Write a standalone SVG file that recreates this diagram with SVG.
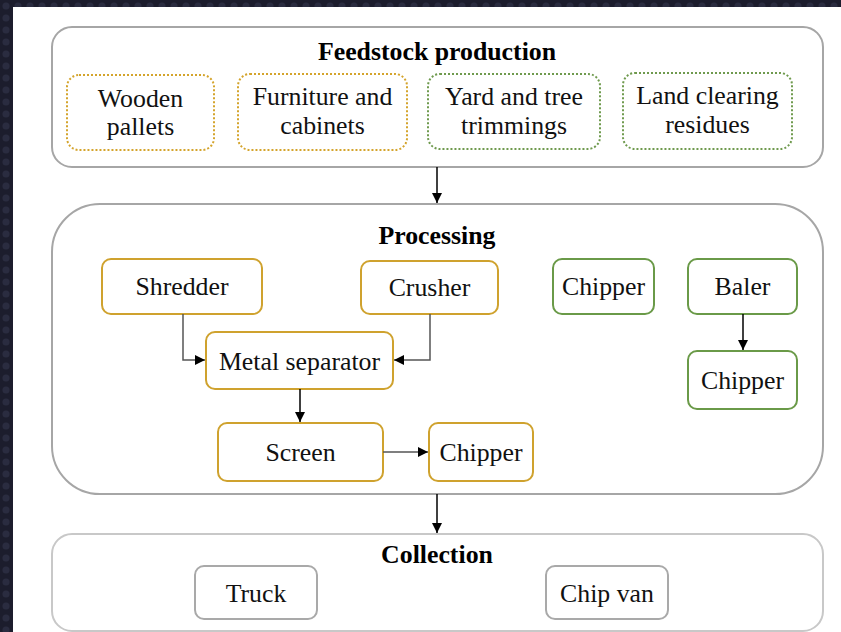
<svg xmlns="http://www.w3.org/2000/svg" width="841" height="632" viewBox="0 0 841 632">
<defs>
<pattern id="bgdots" width="12" height="12" patternUnits="userSpaceOnUse">
<rect width="12" height="12" fill="#1c1d2d"/>
<circle cx="6" cy="6" r="3.5" fill="#2a2c40"/>
</pattern>
<marker id="ah" viewBox="0 0 10 10" refX="10" refY="5" markerWidth="10" markerHeight="10" markerUnits="userSpaceOnUse" orient="auto">
<path d="M0,0 L10,5 L0,10 Z" fill="#000"/>
</marker>
<style>
.cont{fill:#fff;stroke:#a6a6a6;stroke-width:2}
.cont2{fill:#fff;stroke:#c8c8c8;stroke-width:2}
.gd{fill:#fff;stroke:#d4a42c;stroke-width:2;stroke-dasharray:2 2}
.gnd{fill:#fff;stroke:#6f9a4e;stroke-width:2;stroke-dasharray:2 2}
.g{fill:#fff;stroke:#cfa22e;stroke-width:2}
.gn{fill:#fff;stroke:#6a9a48;stroke-width:2}
.gr{fill:#fff;stroke:#a9a9a9;stroke-width:2}
.t{font-family:"Liberation Serif","Times New Roman",serif;font-size:25.8px;fill:#111;text-anchor:middle}
.h{font-family:"Liberation Serif","Times New Roman",serif;font-size:25.8px;font-weight:bold;fill:#000;text-anchor:middle}
.c{fill:none;stroke:#555;stroke-width:1.5;marker-end:url(#ah)}
.cb{fill:none;stroke:#000;stroke-width:1.5;marker-end:url(#ah)}
</style>
</defs>
<rect width="841" height="632" fill="url(#bgdots)"/>
<rect x="13" y="7" width="828" height="625" fill="#fff"/>

<g id="feedstock">
<rect class="cont" x="52" y="27" width="771" height="140" rx="20"/>
<text class="h" x="437" y="60">Feedstock production</text>
</g>
<g id="wooden-pallets">
<rect class="gd" x="67" y="75" width="147" height="75" rx="12"/>
<text class="t" x="140.5" y="107">Wooden</text>
<text class="t" x="140.5" y="135">pallets</text>
</g>
<g id="furniture">
<rect class="gd" x="238" y="74" width="169" height="76" rx="12"/>
<text class="t" x="322.5" y="105">Furniture and</text>
<text class="t" x="322.5" y="134">cabinets</text>
</g>
<g id="yard">
<rect class="gnd" x="428" y="74" width="172" height="75" rx="12"/>
<text class="t" x="514" y="105">Yard and tree</text>
<text class="t" x="514" y="134">trimmings</text>
</g>
<g id="land">
<rect class="gnd" x="623" y="73" width="169" height="76" rx="12"/>
<text class="t" x="707.5" y="104">Land clearing</text>
<text class="t" x="707.5" y="133">residues</text>
</g>

<g id="processing">
<rect class="cont" x="52" y="204" width="771" height="290" rx="48"/>
<text class="h" x="437" y="244">Processing</text>
</g>
<g id="shredder">
<rect class="g" x="102" y="259" width="160" height="55" rx="9"/>
<text class="t" x="182" y="295">Shredder</text>
</g>
<g id="crusher">
<rect class="g" x="361" y="261" width="137" height="53" rx="9"/>
<text class="t" x="429.5" y="296">Crusher</text>
</g>
<g id="metal-separator">
<rect class="g" x="206" y="332" width="187" height="57" rx="9"/>
<text class="t" x="299.5" y="370">Metal separator</text>
</g>
<g id="screen">
<rect class="g" x="218" y="423" width="165" height="58" rx="9"/>
<text class="t" x="300.5" y="461">Screen</text>
</g>
<g id="chipper-1">
<rect class="g" x="429" y="423" width="104" height="58" rx="9"/>
<text class="t" x="481" y="461">Chipper</text>
</g>
<g id="chipper-2">
<rect class="gn" x="553" y="259" width="101" height="55" rx="9"/>
<text class="t" x="603.5" y="295">Chipper</text>
</g>
<g id="baler">
<rect class="gn" x="688" y="259" width="109" height="55" rx="9"/>
<text class="t" x="742.5" y="295">Baler</text>
</g>
<g id="chipper-3">
<rect class="gn" x="688" y="351" width="109" height="58" rx="9"/>
<text class="t" x="742.5" y="389">Chipper</text>
</g>

<g id="collection">
<rect class="cont2" x="52" y="534" width="771" height="97" rx="20"/>
<text class="h" x="437" y="563">Collection</text>
</g>
<g id="truck">
<rect class="gr" x="195" y="566" width="122" height="53" rx="9"/>
<text class="t" x="256" y="602">Truck</text>
</g>
<g id="chip-van">
<rect class="gr" x="546" y="566" width="122" height="53" rx="9"/>
<text class="t" x="607" y="602">Chip van</text>
</g>

<g id="connectors">
<path class="cb" d="M437,167 V203"/>
<path class="cb" d="M437,494 V533"/>
<path class="c" d="M183,314 V360 H205"/>
<path class="c" d="M430,314 V360 H394"/>
<path class="cb" d="M300,389 V422"/>
<path class="c" d="M383,452 H428"/>
<path class="cb" d="M743,314 V350"/>
</g>
</svg>
